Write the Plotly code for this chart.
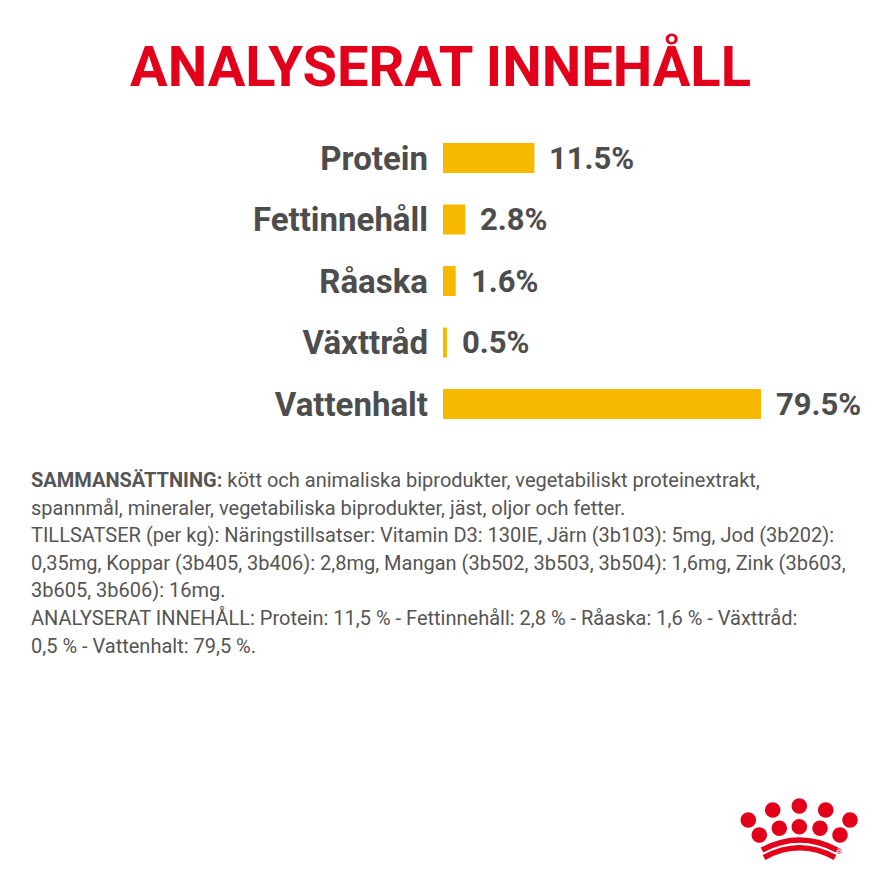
import plotly.graph_objects as go

# ---- data ----
categories = ["Protein", "Fettinnehåll", "Råaska", "Växttråd", "Vattenhalt"]
values = [11.5, 2.8, 1.6, 0.5, 79.5]
value_labels = ["11.5%", "2.8%", "1.6%", "0.5%", "79.5%"]
display_cap = 40  # long bars are shown truncated at this value

title_text = "ANALYSERAT INNEHÅLL"
paragraph_lines = [
    "<b>SAMMANSÄTTNING:</b> kött och animaliska biprodukter, vegetabiliskt proteinextrakt,",
    "spannmål, mineraler, vegetabiliska biprodukter, jäst, oljor och fetter.",
    "TILLSATSER (per kg): Näringstillsatser: Vitamin D3: 130IE, Järn (3b103): 5mg, Jod (3b202):",
    "0,35mg, Koppar (3b405, 3b406): 2,8mg, Mangan (3b502, 3b503, 3b504): 1,6mg, Zink (3b603,",
    "3b605, 3b606): 16mg.",
    "ANALYSERAT INNEHÅLL: Protein: 11,5 % - Fettinnehåll: 2,8 % - Råaska: 1,6 % - Växttråd:",
    "0,5 % - Vattenhalt: 79,5 %.",
]

W = H = 880
OFF = 8  # page body margin in the browser
FONT = "Roboto, Liberation Sans, sans-serif"
GRAY = "#4d4d4d"
RED = "#e2001a"
YELLOW = "#f7b900"

shown = [min(v, display_cap) for v in values]

fig = go.Figure(go.Bar(
    x=shown, y=categories, orientation="h",
    marker=dict(color=YELLOW, line=dict(width=0)),
    width=0.49, hoverinfo="skip",
))

def px(x):
    return (x - OFF) / W

def py(y):
    return 1 - (y - OFF) / H

# value labels next to bars
for c, s, lab in zip(categories, shown, value_labels):
    fig.add_annotation(x=s, y=c, xref="x", yref="y", text=lab, showarrow=False,
                       xanchor="left", yanchor="middle", xshift=13,
                       font=dict(family=FONT, size=31, color=GRAY, weight="bold"))

# title
fig.add_annotation(x=px(440), y=py(67), xref="paper", yref="paper", text=title_text,
                   showarrow=False, xanchor="center", yanchor="middle",
                   font=dict(family=FONT, size=56, color=RED, weight="bold"))

# paragraph
for i, line in enumerate(paragraph_lines):
    fig.add_annotation(x=px(29), y=py(480 + i * 27.6), xref="paper", yref="paper",
                       text=line, showarrow=False, xanchor="left", yanchor="middle",
                       align="left", font=dict(family=FONT, size=20, color="#555555"))

# crown logo (drawn as shapes in pixel space)
dots = [(772.7, 810), (799.3, 806), (825.7, 810), (748.3, 820), (850, 820),
        (759.3, 835), (779.3, 828.3), (799.3, 826.7), (820, 828.3), (840, 835)]
r = 7.8
shapes = []
for (cx, cy) in dots:
    shapes.append(dict(type="circle", xref="paper", yref="paper",
                       x0=px(cx - r), x1=px(cx + r), y0=py(cy + r), y1=py(cy - r),
                       fillcolor=RED, line=dict(width=0)))
for (x0, x1, ye, yc) in [(762, 837, 850, 830), (764, 835, 857.5, 838)]:
    xm = (x0 + x1) / 2
    path = (f"M {px(x0):.5f} {py(ye):.5f} Q {px(xm):.5f} {py(yc):.5f} "
            f"{px(x1):.5f} {py(ye):.5f}")
    shapes.append(dict(type="path", xref="paper", yref="paper", path=path,
                       line=dict(color=RED, width=5.5)))
fig.add_annotation(x=px(844), y=py(858), xref="paper", yref="paper", text="®",
                   showarrow=False, font=dict(family=FONT, size=8, color=RED))

fig.update_layout(
    width=W, height=H, margin=dict(l=0, r=0, t=0, b=0),
    paper_bgcolor="white", plot_bgcolor="white", showlegend=False,
    shapes=shapes,
    xaxis=dict(domain=[px(443), 1.0], range=[0, (W + OFF - 443) / 7.95],
               visible=False, fixedrange=True),
    yaxis=dict(domain=[py(434.75), py(127.25)], autorange=False, range=[4.5, -0.5],
               showgrid=False, zeroline=False, showline=False, ticks="",
               ticklabelstandoff=14, fixedrange=True,
               tickfont=dict(family=FONT, size=33, color=GRAY, weight="bold")),
)

fig.write_html("out.html")
